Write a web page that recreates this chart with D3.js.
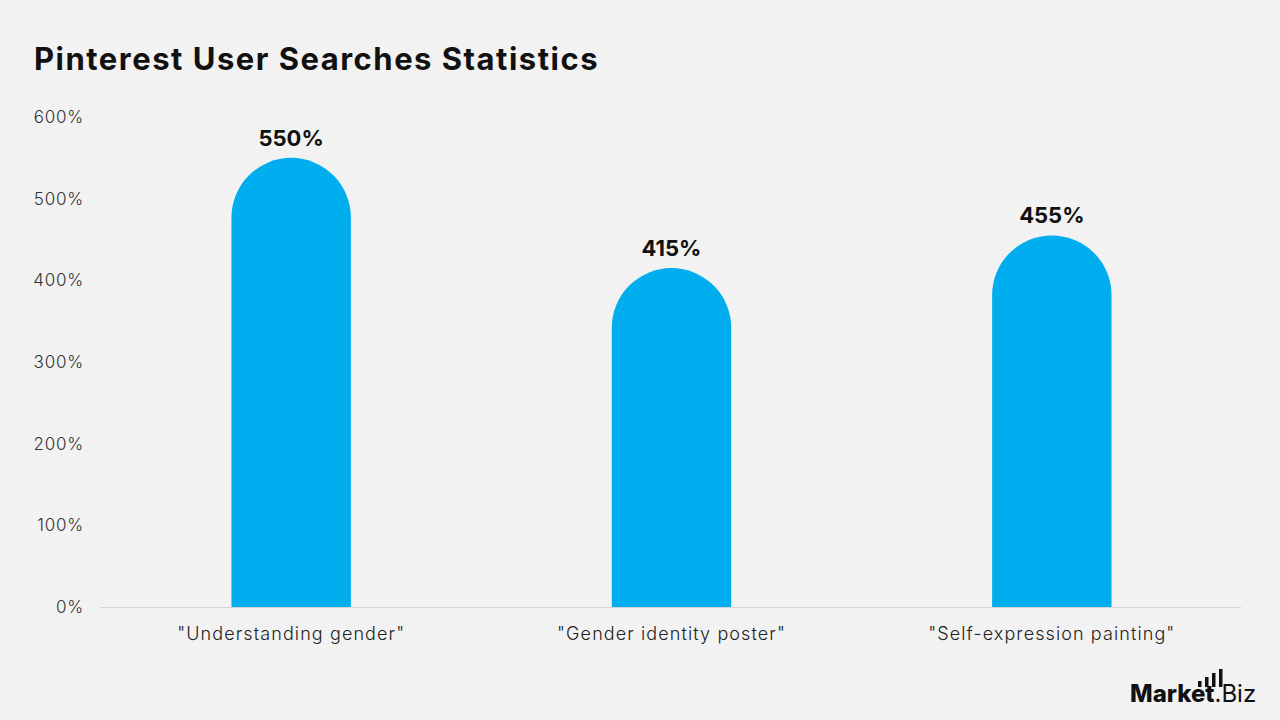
<!DOCTYPE html>
<html><head><meta charset="utf-8">
<script src="https://cdn.jsdelivr.net/npm/d3@7"></script>
<style>body{margin:0;background:#f2f2f2;}svg{display:block;}</style>
</head><body>
<svg id="c" width="1280" height="720"></svg>
<script>
const categories = ['"Understanding gender"', '"Gender identity poster"', '"Self-expression painting"'];
const values = [550, 415, 455];
const yTicks = [0, 100, 200, 300, 400, 500, 600];

const svg = d3.select("#c");
svg.append("rect").attr("width",1280).attr("height",720).attr("fill","#f2f2f2");
const font = "Inter, 'Open Sans', sans-serif";

svg.append("text").attr("x",34).attr("y",70).text("Pinterest User Searches Statistics")
  .attr("font-family",font).attr("font-weight",700).attr("font-size",31).attr("letter-spacing",1.5).attr("fill","#111");

const x = d3.scaleBand().domain(categories).range([101,1242]).paddingInner(0.686).paddingOuter(0.343);
const y = d3.scaleLinear().domain([0,600]).range([607,117]);

const ya = svg.append("g").attr("transform","translate(84,0)")
  .call(d3.axisLeft(y).tickValues(yTicks).tickFormat(d=>d+"%").tickSize(0).tickPadding(0));
ya.select(".domain").remove();
ya.selectAll("text").attr("font-family",font).attr("font-size",17).attr("letter-spacing",0.8).attr("fill","#333").attr("font-weight",300);

svg.append("line").attr("x1",100).attr("x2",1241).attr("y1",y(0)+0.5).attr("y2",y(0)+0.5).attr("stroke","#d4d4d4");

const xa = svg.append("g").attr("transform",`translate(0,${y(0)})`)
  .call(d3.axisBottom(x).tickSize(0).tickPadding(20));
xa.select(".domain").remove();
xa.selectAll("text").attr("font-family",font).attr("font-size",18).attr("letter-spacing",1.1).attr("fill","#222").attr("font-weight",300);

const bw = x.bandwidth();
const r = bw/2;
svg.selectAll("path.bar").data(values).enter().append("path").attr("class","bar")
  .attr("fill","#00aeef")
  .attr("d",(d,i)=>{
    const x0 = x(categories[i]), yt = y(d), yb = y(0);
    return `M${x0},${yb} L${x0},${yt+r} A${r},${r} 0 0 1 ${x0+bw},${yt+r} L${x0+bw},${yb} Z`;
  });

svg.selectAll("text.val").data(values).enter().append("text").attr("class","val")
  .attr("x",(d,i)=>x(categories[i])+bw/2).attr("y",d=>y(d)-12)
  .attr("text-anchor","middle").attr("font-family",font).attr("font-weight",700)
  .attr("font-size",22).attr("fill","#111").text(d=>d+"%");

// logo
const lg = svg.append("g");
const mk = lg.append("text").attr("x",1130).attr("y",702).text("Market").attr("font-family",font)
  .attr("font-weight",800).attr("font-size",24).attr("fill","#111");
const mw = mk.node().getComputedTextLength();
lg.append("text").attr("x",1130+mw).attr("y",702).text(".Biz").attr("font-family",font)
  .attr("font-weight",400).attr("font-size",24).attr("fill","#111");
[[1198,681],[1205,677],[1212,673],[1219,669]].forEach(([bx,by])=>{
  lg.append("rect").attr("x",bx).attr("y",by).attr("width",3.5).attr("height",687-by).attr("fill","#111");
});
</script>
</body></html>
